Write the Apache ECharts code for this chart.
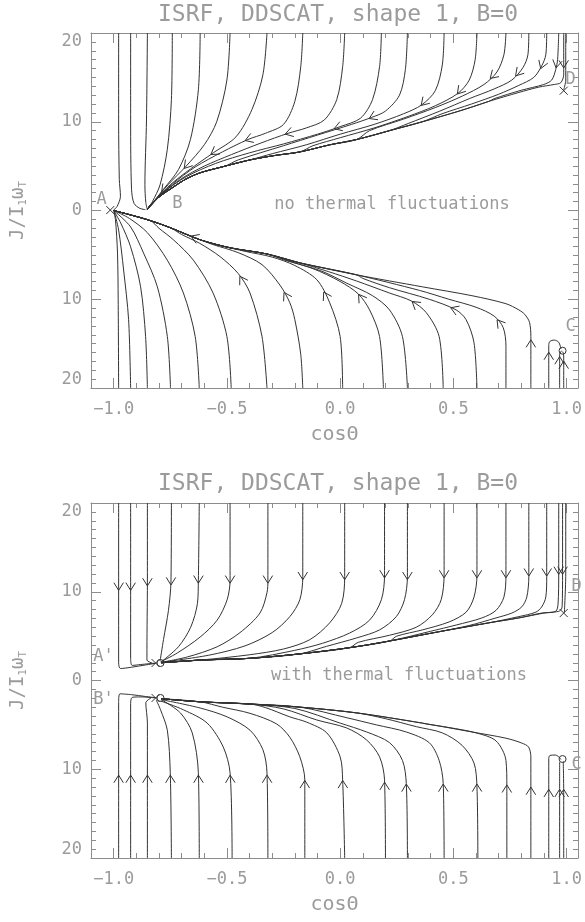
<!DOCTYPE html>
<html><head><meta charset="utf-8">
<script src="https://cdn.jsdelivr.net/npm/echarts@6/dist/echarts.min.js"></script>
<style>html,body{margin:0;padding:0;background:#fff}#c{width:585px;height:922px}</style>
</head><body><div id="c"></div>
<script>
// ---------- text ----------
const TITLE = 'ISRF, DDSCAT, shape 1, B=0';
const NOTE_TOP = 'no thermal fluctuations';
const NOTE_BOT = 'with thermal fluctuations';
const X_NAME = 'cosΘ';
// ---------- ticks ----------
const X_MAJOR = [-1, -0.5, 0, 0.5, 1];
const X_MINOR = [-1.1,-0.9,-0.8,-0.7,-0.6,-0.4,-0.3,-0.2,-0.1,0.1,0.2,0.3,0.4,0.6,0.7,0.8,0.9];
const Y_MIN = -20, Y_MAX = 20, Y_STEP = 10;
const X_MIN = -1.1, X_MAX = 1.05;

// ---------- top panel (no thermal fluctuations) ----------
const TOP_UPPER_ATTRACTOR = [[0.934,14.2],[0.877,13.9],[0.789,13.3],[0.657,12.3],[0.525,11.2],[0.363,10.0],[0.218,9.0],[0.073,8.0],[-0.046,7.4],[-0.178,6.6],[-0.288,6.2],[-0.398,5.7],[-0.508,5.0],[-0.618,4.25],[-0.684,3.5],[-0.727,2.8],[-0.793,1.65],[-0.837,0.65],[-0.851,0.1]];
const TOP_UPPER = [
 [[-0.978,20],[-0.978,10.2],[-0.975,3.5],[-0.97,1.6],[-0.985,0.45],[-1.0,0.05]],
 [[-0.925,20],[-0.925,10.2],[-0.921,2.4],[-0.91,0.8],[-0.885,0.25],[-0.86,0.1]],
 [[-0.851,20],[-0.855,10.2],[-0.862,2.9],[-0.858,0.9],[-0.851,0.1]],
 [[-0.741,20],[-0.745,12.5],[-0.763,6.9],[-0.795,2.9],[-0.829,1.0],[-0.851,0.1]],
 [[-0.618,20],[-0.626,13.6],[-0.661,8.0],[-0.714,4.6],[-0.78,2.4],[-0.835,0.6],[-0.851,0.1]],
 [[-0.486,20],[-0.5,14.7],[-0.545,10.0],[-0.6,7.4],[-0.68,5.0],[-0.76,2.9],[-0.82,1.1],[-0.851,0.1]],
 [[-0.323,20],[-0.341,15.3],[-0.389,11.4],[-0.46,8.3],[-0.56,6.5],[-0.66,4.7],[-0.75,2.9],[-0.815,1.2],[-0.851,0.1]],
 [[-0.165,20],[-0.174,16.2],[-0.2,12.3],[-0.25,9.7],[-0.33,8.7],[-0.407,8.0],[-0.52,6.6],[-0.64,4.9],[-0.74,3.0],[-0.81,1.3],[-0.851,0.1]],
 [[0.02,20],[0.011,16.2],[-0.015,12.5],[-0.07,10.2],[-0.15,9.3],[-0.23,8.7],[-0.35,7.6],[-0.48,6.3],[-0.6,5.0],[-0.7,3.6],[-0.79,1.8],[-0.851,0.1]],
 [[0.182,20],[0.174,16.2],[0.143,12.5],[0.09,10.4],[0.0,9.45],[-0.1,8.6],[-0.25,7.5],[-0.4,6.5],[-0.55,5.3],[-0.68,3.8],[-0.78,2.0],[-0.851,0.1]],
 [[0.297,20],[0.288,15.9],[0.262,13.0],[0.2,11.2],[0.14,10.5],[0.05,9.7],[-0.1,8.5],[-0.25,7.3],[-0.45,5.7]],
 [[0.459,20],[0.451,16.4],[0.42,13.5],[0.36,11.9],[0.28,10.9],[0.15,9.7],[0.0,8.6],[-0.15,7.4],[-0.3,6.4]],
 [[0.604,20],[0.596,17.0],[0.57,14.7],[0.52,13.2],[0.42,11.8],[0.3,10.6],[0.15,9.3],[0.0,8.2],[-0.12,7.3]],
 [[0.732,20],[0.723,17.55],[0.692,15.6],[0.635,14.2],[0.54,12.9],[0.42,11.6],[0.28,10.3],[0.13,9.0]],
 [[0.833,20],[0.829,17.55],[0.807,16.1],[0.758,14.7],[0.68,13.7],[0.57,12.6],[0.44,11.2],[0.3,9.8]],
 [[0.912,20],[0.908,17.55],[0.89,16.3],[0.855,15.0],[0.789,14.1],[0.7,13.1],[0.58,12.0],[0.45,10.9]],
 [[0.965,20],[0.96,17.0],[0.952,15.9],[0.934,14.7],[0.899,14.2],[0.8,13.55],[0.68,12.6]],
 [[0.987,20],[0.987,15.3],[0.974,14.4],[0.945,14.2]],
 [[0.996,20],[0.996,14.7],[0.987,13.6]]
];
const TOP_UPPER_JOIN = [0,0,0,0,0,0,0,0,0,0,1,1,1,1,1,1,1,1,0];
const TOP_UPPER_ARROWS = [[-0.78,2.3],[-0.68,5.0],[-0.56,6.5],[-0.407,8.0],[-0.23,8.7],[-0.015,9.4],[0.14,10.5],[0.37,12.0],[0.53,13.3],[0.68,14.9],[0.789,15.3],[0.89,16.3],[0.958,16.4],[0.987,16.4]];

const TOP_LOWER_ATTRACTOR = [[0.789,-11.2],[0.732,-10.5],[0.582,-9.6],[0.363,-8.6],[0.073,-7.25],[-0.178,-5.9],[-0.323,-4.9],[-0.486,-4.2],[-0.618,-3.3],[-0.749,-1.95],[-0.837,-1.15],[-0.925,-0.5],[-1.0,0.0]];
const TOP_LOWER = [
 [[-0.978,-20],[-0.98,-10],[-0.983,-4.8],[-0.992,-1.05],[-1.0,0.0]],
 [[-0.925,-20],[-0.934,-12.3],[-0.956,-6.7],[-0.978,-2.2],[-0.998,-0.1]],
 [[-0.851,-20],[-0.859,-14.2],[-0.881,-8.6],[-0.925,-4.1],[-0.969,-1.4],[-0.998,-0.1]],
 [[-0.749,-20],[-0.763,-14.2],[-0.807,-8.6],[-0.868,-4.8],[-0.925,-1.85],[-0.995,-0.1]],
 [[-0.622,-20],[-0.64,-14.2],[-0.692,-9.3],[-0.763,-5.6],[-0.851,-2.5],[-0.93,-0.9],[-0.995,-0.05]],
 [[-0.481,-20],[-0.5,-14.2],[-0.561,-9.3],[-0.648,-5.6],[-0.736,-3.3],[-0.8,-2.0]],
 [[-0.323,-20],[-0.345,-14.2],[-0.398,-9.3],[-0.45,-7.1],[-0.53,-5.2],[-0.62,-3.7],[-0.7,-2.7]],
 [[-0.165,-20],[-0.174,-16.2],[-0.2,-12.3],[-0.222,-10.4],[-0.266,-8.4],[-0.345,-6.1],[-0.45,-4.75],[-0.56,-3.85]],
 [[0.011,-20],[0.0,-14.2],[-0.046,-10.4],[-0.103,-7.8],[-0.2,-6.2],[-0.3,-5.25],[-0.42,-4.6]],
 [[0.191,-20],[0.174,-14.2],[0.13,-11.2],[0.08,-9.4],[0.0,-8.0],[-0.12,-6.55],[-0.25,-5.55]],
 [[0.297,-20],[0.275,-14.2],[0.218,-11.2],[0.143,-9.6],[0.03,-8.2],[-0.08,-6.85],[-0.2,-5.9]],
 [[0.455,-20],[0.437,-14.2],[0.38,-11.5],[0.315,-10.2],[0.218,-9.3],[0.073,-7.95],[-0.05,-6.9]],
 [[0.604,-20],[0.591,-14.9],[0.556,-12.3],[0.512,-11.2],[0.393,-10.0],[0.218,-8.7],[0.1,-7.65]],
 [[0.732,-20],[0.732,-15.3],[0.72,-13.2],[0.68,-11.9],[0.6,-10.9],[0.48,-10.0],[0.35,-9.0]],
 [[0.842,-20],[0.842,-14.2],[0.836,-12.6],[0.815,-11.7]],
 [[0.921,-20],[0.921,-15.2],[0.926,-14.75],[0.945,-14.6],[0.965,-14.85],[0.975,-15.6]],
 [[0.969,-20],[0.969,-16.2],[0.978,-15.8]],
 [[0.987,-20],[0.987,-16.4],[0.983,-15.9]]
];
const TOP_LOWER_JOIN = [0,0,0,0,0,1,1,1,1,1,1,1,1,1,1,0,0,0];
const TOP_LOWER_ARROWS = [[-0.648,-3.1],[-0.43,-7.6],[-0.24,-9.5],[-0.06,-9.4],[0.09,-9.7],[0.33,-10.4],[0.5,-11.1],[0.7,-12.6],[0.842,-14.9],[0.921,-16.3],[0.969,-16.8],[0.987,-17.3]];
const TOP_CROSSES = [[-1.015,0.05],[0.987,13.5]];
const TOP_CIRCLES = [[0.982,-15.8]];
const TOP_LETTERS = ['A','B','D','C'];
const TOP_LETTER_POS = [[-1.053,1.2],[-0.719,0.75],[1.018,14.7],[1.018,-13.1]];

// ---------- bottom panel (with thermal fluctuations) ----------
const BOT_UPPER_ATTRACTOR = [[0.952,7.8],[0.89,7.6],[0.789,7.05],[0.657,6.5],[0.437,5.5],[0.218,4.45],[0.042,3.7],[-0.178,3.0],[-0.398,2.5],[-0.618,2.3],[-0.79,2.0]];
const BOT_UPPER = [
 [[-0.978,20],[-0.978,10.4],[-0.978,2.0],[-0.97,1.35],[-0.92,1.5],[-0.86,1.75],[-0.81,1.95]],
 [[-0.925,20],[-0.925,10.5],[-0.925,2.5],[-0.918,1.7],[-0.88,1.8],[-0.82,1.95]],
 [[-0.851,20],[-0.851,11.0],[-0.853,3.5],[-0.853,2.3],[-0.83,1.97]],
 [[-0.745,20],[-0.747,11.1],[-0.758,7.9],[-0.78,4.6],[-0.795,2.2]],
 [[-0.622,20],[-0.626,11.3],[-0.63,8.7],[-0.66,6.0],[-0.714,3.8],[-0.79,2.1]],
 [[-0.486,20],[-0.486,11.3],[-0.499,9.1],[-0.543,6.8],[-0.618,4.9],[-0.719,3.1],[-0.793,2.1]],
 [[-0.319,20],[-0.319,11.3],[-0.323,9.9],[-0.354,7.6],[-0.442,5.4],[-0.543,3.8],[-0.675,2.65],[-0.79,2.05]],
 [[-0.165,20],[-0.165,11.7],[-0.178,9.1],[-0.222,7.2],[-0.3,5.4],[-0.42,3.9],[-0.58,2.85],[-0.79,2.05]],
 [[0.02,20],[0.02,11.7],[0.007,8.7],[-0.046,6.5],[-0.134,4.6],[-0.25,3.55],[-0.4,2.9]],
 [[0.196,20],[0.196,11.9],[0.182,9.1],[0.13,6.8],[0.042,5.35],[-0.077,4.2],[-0.2,3.4]],
 [[0.297,20],[0.297,11.7],[0.284,9.1],[0.248,7.2],[0.174,5.7],[0.073,4.8],[-0.06,3.85]],
 [[0.459,20],[0.459,11.9],[0.446,9.1],[0.407,7.4],[0.336,6.0],[0.218,5.1],[0.08,4.3]],
 [[0.604,20],[0.604,11.9],[0.591,9.4],[0.556,7.7],[0.481,6.6],[0.363,5.7],[0.25,5.0]],
 [[0.732,20],[0.732,11.9],[0.723,9.4],[0.688,7.9],[0.626,7.05],[0.512,6.25],[0.4,5.55]],
 [[0.833,20],[0.833,11.7],[0.824,9.4],[0.802,8.3],[0.758,7.6],[0.688,7.05],[0.57,6.2]],
 [[0.912,20],[0.912,11.7],[0.908,9.4],[0.89,8.3],[0.864,7.7],[0.789,7.2]],
 [[0.965,20],[0.965,12.2],[0.962,8.6],[0.952,7.8],[0.9,7.6]],
 [[0.982,20],[0.982,12.2],[0.98,8.3],[0.97,7.85],[0.94,7.7]],
 [[0.996,20],[0.996,12.0],[0.99,7.7]]
];
const BOT_UPPER_JOIN = [0,0,0,0,0,0,0,0,1,1,1,1,1,1,1,1,1,1,0];
const BOT_UPPER_ARROWS = [[-0.978,10.5],[-0.925,10.5],[-0.851,11.0],[-0.747,11.1],[-0.626,11.3],[-0.486,11.3],[-0.319,11.3],[-0.165,11.7],[0.02,11.7],[0.196,11.9],[0.297,11.7],[0.459,11.9],[0.604,11.9],[0.732,11.9],[0.833,12.1],[0.912,12.1],[0.965,12.3],[0.982,12.3]];

const BOT_LOWER_ATTRACTOR = [[0.802,-7.05],[0.732,-6.5],[0.582,-5.8],[0.363,-4.8],[0.073,-3.65],[-0.178,-3.0],[-0.398,-2.65],[-0.618,-2.4],[-0.79,-2.05]];
const BOT_LOWER = [
 [[-0.978,-20],[-0.978,-11.0],[-0.978,-2.5],[-0.972,-1.5],[-0.92,-1.6],[-0.86,-1.8],[-0.81,-1.95]],
 [[-0.925,-20],[-0.925,-11.0],[-0.925,-2.6],[-0.918,-1.9],[-0.88,-1.85],[-0.82,-1.95]],
 [[-0.851,-20],[-0.851,-11.0],[-0.851,-4.8],[-0.858,-2.5],[-0.835,-1.97]],
 [[-0.745,-20],[-0.75,-10.4],[-0.763,-5.6],[-0.793,-3.3],[-0.812,-2.2]],
 [[-0.622,-20],[-0.626,-10.4],[-0.653,-5.9],[-0.705,-3.66],[-0.78,-2.3]],
 [[-0.477,-20],[-0.486,-10.4],[-0.516,-7.5],[-0.587,-4.8],[-0.692,-3.3],[-0.793,-2.3]],
 [[-0.319,-20],[-0.323,-10.4],[-0.341,-7.8],[-0.398,-5.6],[-0.499,-4.1],[-0.618,-3.1],[-0.79,-2.15]],
 [[-0.156,-20],[-0.156,-11.2],[-0.178,-8.6],[-0.222,-6.4],[-0.28,-4.9],[-0.398,-3.7],[-0.52,-3.0]],
 [[0.02,-20],[0.011,-11.2],[0.0,-8.6],[-0.059,-5.9],[-0.147,-4.7],[-0.222,-4.1],[-0.33,-3.05]],
 [[0.2,-20],[0.196,-11.2],[0.174,-8.6],[0.117,-6.7],[0.029,-5.35],[-0.103,-4.45],[-0.25,-3.2]],
 [[0.297,-20],[0.292,-11.6],[0.275,-9.0],[0.218,-7.0],[0.117,-5.8],[0.0,-4.8],[-0.2,-3.15]],
 [[0.459,-20],[0.455,-11.6],[0.437,-9.0],[0.393,-7.0],[0.292,-5.8],[0.16,-5.0],[0.03,-4.2]],
 [[0.608,-20],[0.604,-12.0],[0.591,-9.3],[0.538,-7.3],[0.451,-5.9],[0.336,-5.2],[0.2,-4.3]],
 [[0.736,-20],[0.736,-12.0],[0.732,-9.0],[0.688,-6.8],[0.6,-5.9],[0.481,-5.3],[0.38,-4.9]],
 [[0.842,-20],[0.842,-12.35],[0.842,-8.6],[0.832,-7.5],[0.802,-7.05]],
 [[0.921,-20],[0.921,-12.6],[0.921,-8.8],[0.926,-8.45],[0.95,-8.4],[0.965,-8.6],[0.975,-8.9]],
 [[0.969,-20],[0.969,-12.6],[0.969,-9.2]],
 [[0.987,-20],[0.987,-12.6],[0.985,-9.1]]
];
const BOT_LOWER_JOIN = [0,0,0,0,0,0,0,1,1,1,1,1,1,1,1,0,0,0];
const BOT_LOWER_ARROWS = [[-0.978,-11.0],[-0.925,-11.0],[-0.851,-11.0],[-0.75,-11.0],[-0.626,-11.0],[-0.486,-11.0],[-0.323,-11.0],[-0.156,-11.6],[0.011,-11.6],[0.196,-11.8],[0.292,-12.0],[0.455,-12.0],[0.604,-12.0],[0.736,-12.1],[0.842,-12.35],[0.921,-12.6],[0.969,-12.6],[0.987,-12.6]];
const BOT_CROSSES = [[-0.815,1.97],[-0.815,-1.97],[0.987,7.6]];
const BOT_CIRCLES = [[-0.793,1.97],[-0.793,-1.97],[0.982,-8.85]];
const BOT_LETTERS = ["A'","B'",'D','C'];
const BOT_LETTER_POS = [[-1.045,2.65],[-1.045,-2.2],[1.044,10.6],[1.044,-9.5]];

// ---------- styles ----------
const LINE = '#333';
const AX = '#8c8c8c';
const TXT = '#9b9b9b';
const FONT = '"DejaVu Sans Mono", "Liberation Mono", monospace';

function compose(own, attr, join) {
  const pts = own.map(p => p.slice());
  if (join) {
    const lx = own[own.length - 1][0];
    attr.forEach(p => { if (p[0] < lx - 0.015) pts.push(p.slice()); });
  }
  return pts;
}

function arrowRenderer(trajs) {
  return function (params, api) {
    const p = api.coord([api.value(0), api.value(1)]);
    let best = null, bd = Infinity;
    for (const t of trajs) {
      let prev = api.coord(t[0]);
      for (let i = 1; i < t.length; i++) {
        const cur = api.coord(t[i]);
        const vx = cur[0] - prev[0], vy = cur[1] - prev[1];
        const L2 = vx * vx + vy * vy;
        if (L2 > 1e-6) {
          let u = ((p[0] - prev[0]) * vx + (p[1] - prev[1]) * vy) / L2;
          u = Math.max(0, Math.min(1, u));
          const qx = prev[0] + u * vx, qy = prev[1] + u * vy;
          const d = (qx - p[0]) * (qx - p[0]) + (qy - p[1]) * (qy - p[1]);
          if (d < bd) { bd = d; const L = Math.sqrt(L2); best = { q: [qx, qy], dir: [vx / L, vy / L] }; }
        }
        prev = cur;
      }
    }
    const dx = best.dir[0], dy = best.dir[1];
    const c = best.q;
    const tip = [c[0] + dx * 3, c[1] + dy * 3];
    const a = 32 * Math.PI / 180, len = 9;
    const ca = Math.cos(a), sa = Math.sin(a);
    const r1 = [dx * ca - dy * sa, dx * sa + dy * ca];
    const r2 = [dx * ca + dy * sa, -dx * sa + dy * ca];
    return {
      type: 'polyline',
      shape: { points: [[tip[0] - r1[0] * len, tip[1] - r1[1] * len], tip, [tip[0] - r2[0] * len, tip[1] - r2[1] * len]] },
      style: { stroke: LINE, lineWidth: 1, fill: 'none' }
    };
  };
}
function crossRender(params, api) {
  const p = api.coord([api.value(0), api.value(1)]), s = 4;
  return { type: 'group', children: [
    { type: 'line', shape: { x1: p[0] - s, y1: p[1] - s, x2: p[0] + s, y2: p[1] + s }, style: { stroke: LINE, lineWidth: 1 } },
    { type: 'line', shape: { x1: p[0] - s, y1: p[1] + s, x2: p[0] + s, y2: p[1] - s }, style: { stroke: LINE, lineWidth: 1 } }
  ]};
}
function circleRender(params, api) {
  const p = api.coord([api.value(0), api.value(1)]);
  return { type: 'circle', shape: { cx: p[0], cy: p[1], r: 3.5 }, style: { stroke: LINE, lineWidth: 1, fill: 'none' } };
}
function letterRenderer(texts) {
  return function (params, api) {
    const p = api.coord([api.value(0), api.value(1)]);
    return { type: 'text', x: p[0], y: p[1], style: { text: texts[params.dataIndex], fill: TXT, font: '17px ' + FONT, align: 'center', verticalAlign: 'middle' } };
  };
}

const PANELS = [
  { xi: 0, yi: 0,
    trajs: TOP_UPPER.map((t, i) => compose(t, TOP_UPPER_ATTRACTOR, TOP_UPPER_JOIN[i]))
      .concat(TOP_LOWER.map((t, i) => compose(t, TOP_LOWER_ATTRACTOR, TOP_LOWER_JOIN[i]))),
    arrows: TOP_UPPER_ARROWS.concat(TOP_LOWER_ARROWS),
    crosses: TOP_CROSSES, circles: TOP_CIRCLES, letters: TOP_LETTERS, letterPos: TOP_LETTER_POS },
  { xi: 4, yi: 2,
    trajs: BOT_UPPER.map((t, i) => compose(t, BOT_UPPER_ATTRACTOR, BOT_UPPER_JOIN[i]))
      .concat(BOT_LOWER.map((t, i) => compose(t, BOT_LOWER_ATTRACTOR, BOT_LOWER_JOIN[i]))),
    arrows: BOT_UPPER_ARROWS.concat(BOT_LOWER_ARROWS),
    crosses: BOT_CROSSES, circles: BOT_CIRCLES, letters: BOT_LETTERS, letterPos: BOT_LETTER_POS }
];

const series = [];
PANELS.forEach(P => {
  P.trajs.forEach(t => series.push({
    type: 'line', xAxisIndex: P.xi, yAxisIndex: P.yi, data: t, symbol: 'none', showSymbol: false,
    smooth: 0.3, lineStyle: { color: LINE, width: 1 }, silent: true, z: 2
  }));
  const base = { type: 'custom', coordinateSystem: 'cartesian2d', xAxisIndex: P.xi, yAxisIndex: P.yi, encode: { x: 0, y: 1 }, silent: true, z: 3 };
  series.push(Object.assign({}, base, { data: P.arrows, renderItem: arrowRenderer(P.trajs) }));
  series.push(Object.assign({}, base, { data: P.crosses, renderItem: crossRender }));
  series.push(Object.assign({}, base, { data: P.circles, renderItem: circleRender }));
  series.push(Object.assign({}, base, { data: P.letterPos, renderItem: letterRenderer(P.letters) }));
});

const grids = [
  { left: 91, top: 33, width: 487, height: 355 },
  { left: 91, top: 503, width: 487, height: 355 }
];
const tickLine = { color: AX, width: 1 };
function xAxes(g) {
  return [
    { gridIndex: g, type: 'value', min: X_MIN, max: X_MAX, position: 'bottom',
      axisLine: { show: true, onZero: false, lineStyle: tickLine },
      axisTick: { show: true, inside: true, length: 10, customValues: X_MAJOR, lineStyle: tickLine },
      axisLabel: { show: true, customValues: X_MAJOR, margin: 13, color: TXT, fontFamily: FONT, fontSize: 17,
        formatter: v => (v < 0 ? '−' : '') + Math.abs(v).toFixed(1) },
      splitLine: { show: false },
      name: X_NAME, nameLocation: 'middle', nameGap: 37,
      nameTextStyle: { color: TXT, fontFamily: FONT, fontSize: 20 } },
    { gridIndex: g, type: 'value', min: X_MIN, max: X_MAX, position: 'bottom',
      axisLine: { show: false, onZero: false },
      axisTick: { show: true, inside: true, length: 5, customValues: X_MINOR, lineStyle: tickLine },
      axisLabel: { show: false }, splitLine: { show: false } },
    { gridIndex: g, type: 'value', min: X_MIN, max: X_MAX, position: 'top',
      axisLine: { show: true, onZero: false, lineStyle: tickLine },
      axisTick: { show: true, inside: true, length: 10, customValues: X_MAJOR, lineStyle: tickLine },
      axisLabel: { show: false }, splitLine: { show: false } },
    { gridIndex: g, type: 'value', min: X_MIN, max: X_MAX, position: 'top',
      axisLine: { show: false, onZero: false },
      axisTick: { show: true, inside: true, length: 5, customValues: X_MINOR, lineStyle: tickLine },
      axisLabel: { show: false }, splitLine: { show: false } }
  ];
}
function yAxes(g) {
  return [
    { gridIndex: g, type: 'value', min: Y_MIN, max: Y_MAX, interval: Y_STEP, position: 'left',
      axisLine: { show: true, onZero: false, lineStyle: tickLine },
      axisTick: { show: true, inside: true, length: 10, lineStyle: tickLine },
      minorTick: { show: true, splitNumber: 10, length: 5, lineStyle: tickLine },
      axisLabel: { show: true, margin: 9, color: TXT, fontFamily: FONT, fontSize: 17,
        formatter: v => String(Math.abs(v)), verticalAlignMaxLabel: 'top', verticalAlignMinLabel: 'bottom' },
      splitLine: { show: false }, minorSplitLine: { show: false },
      name: 'J/I{s|1}ω{s|T}', nameLocation: 'middle', nameGap: 62, nameRotate: 90,
      nameTextStyle: { color: TXT, fontFamily: FONT, fontSize: 19,
        rich: { s: { fontSize: 11, fontFamily: FONT, color: TXT, verticalAlign: 'bottom', padding: [10, 0, 0, 0] } } } },
    { gridIndex: g, type: 'value', min: Y_MIN, max: Y_MAX, interval: Y_STEP, position: 'right',
      axisLine: { show: true, onZero: false, lineStyle: tickLine },
      axisTick: { show: true, inside: true, length: 10, lineStyle: tickLine },
      minorTick: { show: true, splitNumber: 10, length: 5, lineStyle: tickLine },
      axisLabel: { show: false }, splitLine: { show: false } }
  ];
}

const textEl = (x, y, t, size) => ({ type: 'text', x: x, y: y, z: 10,
  style: { text: t, fill: TXT, font: size + 'px ' + FONT, align: 'center', verticalAlign: 'middle' } });

const chart = echarts.init(document.getElementById('c'), null, { renderer: 'canvas' });
chart.setOption({
  animation: false,
  backgroundColor: '#fff',
  grid: grids,
  xAxis: xAxes(0).concat(xAxes(1)),
  yAxis: yAxes(0).concat(yAxes(1)),
  series: series,
  graphic: [
    textEl(338, 15, TITLE, 23),
    textEl(338, 484, TITLE, 23),
    textEl(392, 205, NOTE_TOP, 17),
    textEl(399, 676, NOTE_BOT, 17)
  ]
});
</script></body></html>
